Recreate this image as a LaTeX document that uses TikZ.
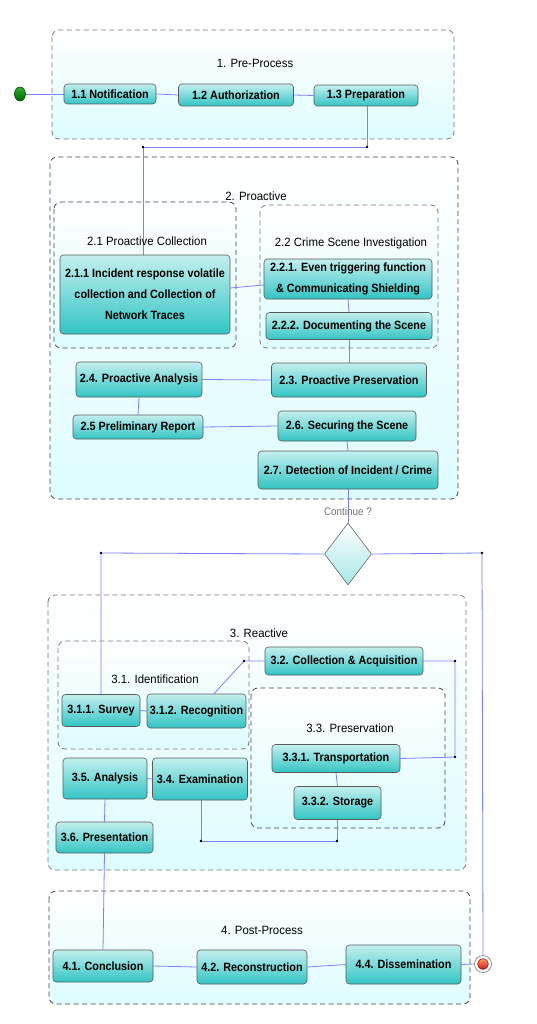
\documentclass[tikz,border=0pt]{standalone}
\usepackage{fontspec}
\setmainfont{Liberation Sans}
\newfontfamily\boxfont{Liberation Sans}[FakeStretch=0.9]
\newfontfamily\labfont{Liberation Sans}[FakeStretch=0.95]
\newfontfamily\thinfont{Liberation Sans}[FakeStretch=0.9]
\usetikzlibrary{shapes.geometric,calc}
\pgfdeclarelayer{cont}\pgfdeclarelayer{bg}
\pgfsetlayers{cont,bg,main}
\definecolor{boxtop}{HTML}{C4EFEF}
\definecolor{boxbot}{HTML}{33C4C4}
\definecolor{contfill}{HTML}{DEFCFF}
\definecolor{linkc}{HTML}{7F7FFF}
\definecolor{dashc}{HTML}{777777}
\definecolor{dashd}{HTML}{444444}
\begin{document}
\begin{tikzpicture}[x=1pt,y=-1pt,
 pbox/.style={draw=black!65, line width=0.6pt, rounded corners=3.5pt, top color=boxtop, bottom color=boxbot, font=\boxfont\fontsize{12}{21}\selectfont\bfseries, align=center, inner sep=1pt},
 cont/.style={draw=dashc, line width=0.8pt, dash pattern=on 5pt off 3.5pt, rounded corners=7pt, top color=white, bottom color=contfill},
 contd/.style={cont, draw=dashd},
 clabel/.style={font=\labfont\fontsize{12}{14}\selectfont, inner sep=1pt},
 link/.style={draw=linkc, line width=0.8pt},
 jdot/.style={fill=black, circle, inner sep=0pt, minimum size=2.6pt}
]
\useasboundingbox (0,0) rectangle (537,1024);
\begin{pgfonlayer}{cont}
\fill[white] (0,0) rectangle (537,1024);
\draw[cont] (52,30) rectangle (454,139);
\draw[contd] (50,157) rectangle (458,499);
\draw[contd] (54,202) rectangle (236,348);
\draw[cont] (260,205) rectangle (438,348);
\draw[cont] (48,595) rectangle (466,870);
\draw[cont] (58,641) rectangle (249,749);
\draw[contd] (251,688) rectangle (445,828);
\draw[contd] (49,891) rectangle (470,1004);
\end{pgfonlayer}

% container labels
\node[clabel] (l1) at (255,63) {1. Pre-Process};
\node[clabel] (l2) at (256,196) {2. Proactive};
\node[clabel] (l21) at (147,241) {2.1 Proactive Collection};
\node[clabel] (l22) at (351,243) {2.2 Crime Scene Investigation};
\node[clabel] (l3) at (259,633) {3. Reactive};
\node[clabel] (l31) at (155,679) {3.1. Identification};
\node[clabel] (l33) at (350,728) {3.3. Preservation};
\node[clabel] (l4) at (262,930) {4. Post-Process};

% start and end
\node[ellipse, draw=green!30!black, line width=0.6pt, inner sep=0pt, minimum width=11pt, minimum height=14pt, top color=green!60!black!80, bottom color=green!40!black] (start) at (20,94) {};
\node[circle, draw=black!55, line width=0.6pt, fill=white, inner sep=0pt, minimum size=17pt] (endc) at (483,964) {};
\node[circle, draw=red!50!black, line width=0.4pt, inner sep=0pt, minimum size=11pt, top color=red!35!orange!60, bottom color=red!75!black!90] (endin) at (endc.center) {};

% boxes
\node[pbox, minimum width=92pt, minimum height=20pt] (n11) at (110,94) {1.1 Notification};
\node[pbox, minimum width=115pt, minimum height=22pt] (n12) at (236,95) {1.2 Authorization};
\node[pbox, minimum width=104pt, minimum height=21pt] (n13) at (366,95.5) {1.3 Preparation};
\node[pbox, minimum width=170pt, minimum height=79pt] (n211) at (145,294.5) {2.1.1 Incident response volatile\\collection and Collection of\\Network Traces};
\node[pbox, minimum width=168pt, minimum height=40pt] (n221) at (348,279) {2.2.1. Even triggering function\\\& Communicating Shielding};
\node[pbox, minimum width=166pt, minimum height=27pt] (n222) at (349,326) {2.2.2. Documenting the Scene};
\node[pbox, minimum width=126pt, minimum height=35pt] (n24) at (139,379.5) {2.4. Proactive Analysis};
\node[pbox, minimum width=155pt, minimum height=34pt] (n23) at (349,380) {2.3. Proactive Preservation};
\node[pbox, minimum width=130pt, minimum height=24pt] (n25) at (138,427) {2.5 Preliminary Report};
\node[pbox, minimum width=138pt, minimum height=30pt] (n26) at (347,426) {2.6. Securing the Scene};
\node[pbox, minimum width=180pt, minimum height=38pt] (n27) at (348,470) {2.7. Detection of Incident / Crime};
\node[diamond, draw=black!60, line width=0.6pt, inner sep=0pt, aspect=0.76, minimum width=47pt, minimum height=62pt, top color=white, bottom color=boxtop!80!boxbot] (dia) at (348,554) {};
\node[font=\thinfont\fontsize{11}{13}\selectfont, text=black!55, inner sep=1pt] (cq) at (348,512) {Continue ?};
\node[pbox, minimum width=78pt, minimum height=32pt] (n311) at (101,710.5) {3.1.1. Survey};
\node[pbox, minimum width=99pt, minimum height=34pt] (n312) at (196.5,711) {3.1.2. Recognition};
\node[pbox, minimum width=158pt, minimum height=28pt] (n32) at (344,661) {3.2. Collection \& Acquisition};
\node[pbox, minimum width=128pt, minimum height=28pt] (n331) at (336,758.5) {3.3.1. Transportation};
\node[pbox, minimum width=87pt, minimum height=33pt] (n332) at (337.5,803) {3.3.2. Storage};
\node[pbox, minimum width=84pt, minimum height=41pt] (n35) at (105,778.5) {3.5. Analysis};
\node[pbox, minimum width=95pt, minimum height=42pt] (n34) at (200,779) {3.4. Examination};
\node[pbox, minimum width=97pt, minimum height=31pt] (n36) at (104.5,837.5) {3.6. Presentation};
\node[pbox, minimum width=100pt, minimum height=32pt] (n41) at (103,966) {4.1. Conclusion};
\node[pbox, minimum width=110pt, minimum height=34pt] (n42) at (252,967) {4.2. Reconstruction};
\node[pbox, minimum width=115pt, minimum height=39pt] (n44) at (403.5,964.5) {4.4. Dissemination};

% junctions
\node[jdot] (j1) at (367,147) {};
\node[jdot] (j2) at (143,147) {};
\node[jdot] (dj1) at (101,553) {};
\node[jdot] (dj2) at (482,553) {};
\node[jdot] (j3) at (244,661) {};
\node[jdot] (j4) at (455,661) {};
\node[jdot] (j5) at (455,757) {};
\node[jdot] (j6) at (337,841) {};
\node[jdot] (j7) at (201,841) {};

\begin{pgfonlayer}{bg}
\draw[link] (start.east) -- (n11.west);
\draw[link] (n11.east) -- (n12.west);
\draw[link] (n12.east) -- (n13.west);
\draw[link] (n13.south -| j1) -- (j1.center) -- (j2.center) -- (n211.north -| j2);
\draw[link] ([yshift=6.5pt]n211.east) -- ([yshift=-6pt]n221.west);
\draw[link] (n221.south) -- (n222.north);
\draw[link] (n222.south) -- (n23.north);
\draw[link] (n23.west) -- (n24.east);
\draw[link] (n24.south) -- (n25.north);
\draw[link] (n25.east) -- (n26.west);
\draw[link] (n26.south) -- (n27.north);
\draw[link] (n27.south) -- (dia.north);
\draw[link] (dia.west) -- (dj1.center) -- (n311.north);
\draw[link] (dia.east) -- (dj2.center) -- (endc.north);
\draw[link] (n311.east) -- (n312.west);
\draw[link] ([xshift=17.5pt]n312.north) -- (j3.center) -- (n32.west);
\draw[link] (n32.east) -- (j4.center) -- (j5.center) -- (n331.east);
\draw[link] (n331.south) -- (n332.north);
\draw[link] (n332.south -| j6) -- (j6.center) -- (j7.center) -- (n34.south -| j7);
\draw[link] (n34.west) -- (n35.east);
\draw[link] (n35.south) -- (n36.north);
\draw[link] (n36.south) -- (n41.north);
\draw[link] (n41.east) -- (n42.west);
\draw[link] (n42.east) -- (n44.west);
\draw[link] (n44.east) -- (endc.west);
\end{pgfonlayer}
\end{tikzpicture}
\end{document}
